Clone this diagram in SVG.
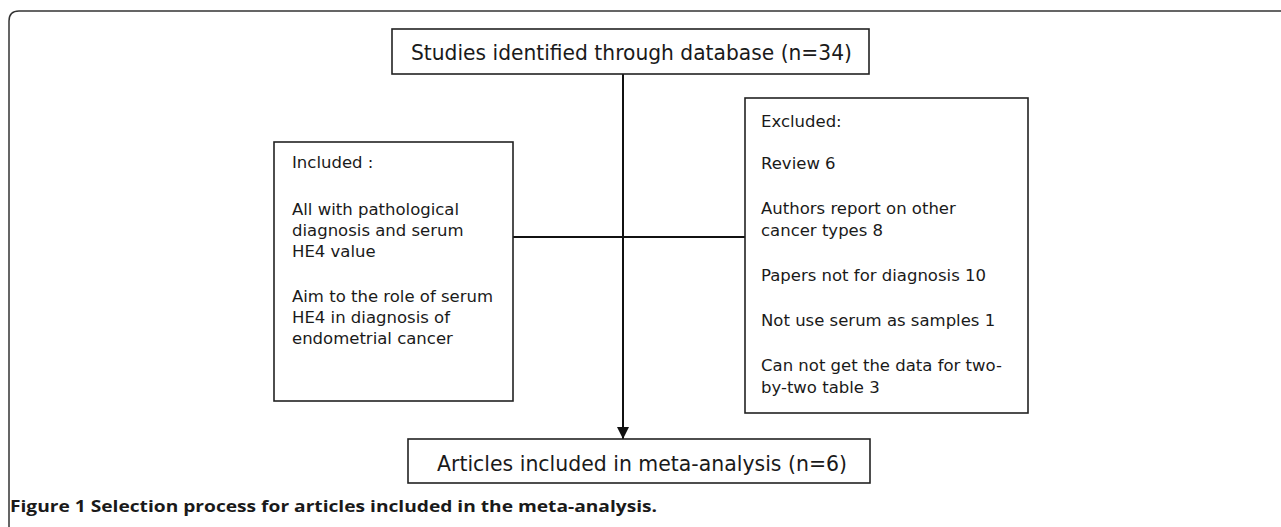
<svg xmlns="http://www.w3.org/2000/svg" width="1281" height="527" viewBox="0 0 1281 527">
<style>
.box{fill:#fff;stroke:#222;stroke-width:1.6}
.t{font-family:"DejaVu Sans",Verdana,sans-serif;font-size:16.5px;fill:#1a1a1a}
.big{font-family:"DejaVu Sans",Verdana,sans-serif;font-size:22px;fill:#1a1a1a}
.cap{font-family:"Open Sans","Liberation Sans",Arial,sans-serif;font-size:16px;font-weight:bold;fill:#1a1a1a}
.conn{stroke:#111;stroke-width:2;fill:none}
</style>
<defs>
<marker id="arr" markerWidth="12" markerHeight="12" refX="12" refY="6" orient="auto" markerUnits="userSpaceOnUse">
<path d="M0,0 L12,6 L0,12 Z" fill="#111"/>
</marker>
</defs>
<path d="M9,527 V21 Q9,11 19,11 H1281" fill="none" stroke="#333" stroke-width="1.5"/>
<g id="connectors">
<line class="conn" x1="623" y1="74" x2="623" y2="439" marker-end="url(#arr)"/>
<line class="conn" x1="513" y1="237" x2="745" y2="237"/>
</g>
<g id="identified">
<rect class="box" x="392" y="29" width="477" height="45"/>
<text class="big" x="411" y="60" textLength="441" lengthAdjust="spacingAndGlyphs">Studies identified through database (n=34)</text>
</g>
<g id="included">
<rect class="box" x="274" y="142" width="239" height="259"/>
<text class="t" x="292" y="168">Included :</text>
<text class="t" x="292" y="215">All with pathological</text>
<text class="t" x="292" y="236">diagnosis and serum</text>
<text class="t" x="292" y="257">HE4 value</text>
<text class="t" x="292" y="302">Aim to the role of serum</text>
<text class="t" x="292" y="323">HE4 in diagnosis of</text>
<text class="t" x="292" y="344">endometrial cancer</text>
</g>
<g id="excluded">
<rect class="box" x="745" y="98" width="283" height="315"/>
<text class="t" x="761" y="127">Excluded:</text>
<text class="t" x="761" y="169">Review 6</text>
<text class="t" x="761" y="214">Authors report on other</text>
<text class="t" x="761" y="236">cancer types 8</text>
<text class="t" x="761" y="281">Papers not for diagnosis 10</text>
<text class="t" x="761" y="326">Not use serum as samples 1</text>
<text class="t" x="761" y="371">Can not get the data for two-</text>
<text class="t" x="761" y="393">by-two table 3</text>
</g>
<g id="articles">
<rect class="box" x="408" y="439" width="462" height="44"/>
<text class="big" x="437" y="471" textLength="410" lengthAdjust="spacingAndGlyphs">Articles included in meta-analysis (n=6)</text>
</g>
<text class="cap" x="10" y="512" textLength="647" lengthAdjust="spacingAndGlyphs">Figure 1 Selection process for articles included in the meta-analysis.</text>
</svg>
